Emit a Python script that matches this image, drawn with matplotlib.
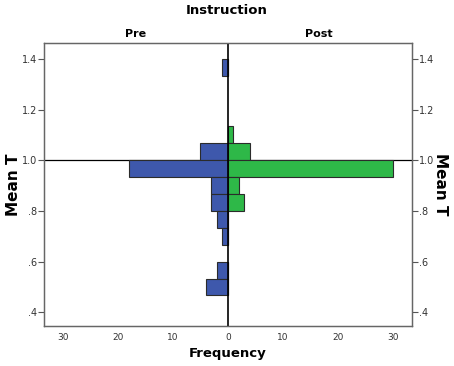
import numpy as np
import matplotlib
matplotlib.use("Agg")
import matplotlib.pyplot as plt

# bins of Mean T, width 1/15, lower edges
bin_width = 1.0 / 15
bin_lo = [1.0 + 5 * bin_width, 1.0 + bin_width, 1.0, 1.0 - bin_width, 1.0 - 2 * bin_width,
          1.0 - 3 * bin_width, 1.0 - 4 * bin_width, 1.0 - 5 * bin_width,
          1.0 - 7 * bin_width, 1.0 - 8 * bin_width]
pre_freq = [1, 0, 5, 18, 3, 3, 2, 1, 2, 4]
post_freq = [0, 1, 4, 30, 2, 3, 0, 0, 0, 0]

x_ticks = [-30, -20, -10, 0, 10, 20, 30]
y_ticks = [0.4, 0.6, 0.8, 1.0, 1.2, 1.4]
y_labels = [".4", ".6", ".8", "1.0", "1.2", "1.4"]

blue = "#3E58AC"
green = "#2EB848"
edge = "#2b2b2b"

fig = plt.figure(figsize=(4.54, 3.66), dpi=100)
ax = fig.add_axes([0.097, 0.110, 0.810, 0.772])

ax.barh(bin_lo, [-v for v in pre_freq], height=bin_width, align="edge",
        color=blue, edgecolor=edge, linewidth=0.8, zorder=2)
ax.barh(bin_lo, post_freq, height=bin_width, align="edge",
        color=green, edgecolor=edge, linewidth=0.8, zorder=2)

ax.axvline(0, color="black", linewidth=1.2, zorder=3)
ax.axhline(1.0, color="black", linewidth=0.9, zorder=1)

ax.set_xlim(-33.4, 33.4)
ax.set_ylim(0.347, 1.462)
ax.set_xticks(x_ticks)
ax.set_xticklabels([str(abs(t)) for t in x_ticks], fontsize=6.5, color="#333333")
ax.tick_params(axis="x", length=0, pad=5)
ax.set_yticks(y_ticks)
ax.set_yticklabels(y_labels, fontsize=7, color="#333333")
ax.tick_params(axis="y", length=4, width=0.8, color="#555555", direction="out", pad=1)

ax2 = ax.twinx()
ax2.set_ylim(ax.get_ylim())
ax2.set_yticks(y_ticks)
ax2.set_yticklabels(y_labels, fontsize=7, color="#333333")
ax2.tick_params(axis="y", length=4, width=0.8, color="#555555", direction="out", pad=1)

for a in (ax, ax2):
    for s in a.spines.values():
        s.set_color("#666666")
        s.set_linewidth(0.9)

ax.set_ylabel("Mean T", fontsize=11, fontweight="bold", va="center")
ax.yaxis.set_label_coords(-0.084, 0.5)
ax2.set_ylabel("Mean T", fontsize=11, fontweight="bold", rotation=-90, va="center")
ax2.yaxis.set_label_coords(1.077, 0.5)
ax.set_xlabel("Frequency", fontsize=9.5, fontweight="bold", labelpad=4)

fig.text(0.5, 0.972, "Instruction", ha="center", va="center", fontsize=9.5, fontweight="bold")
fig.text(0.298, 0.907, "Pre", ha="center", va="center", fontsize=8, fontweight="bold")
fig.text(0.703, 0.907, "Post", ha="center", va="center", fontsize=8, fontweight="bold")

fig.savefig("out.png", dpi=100)
